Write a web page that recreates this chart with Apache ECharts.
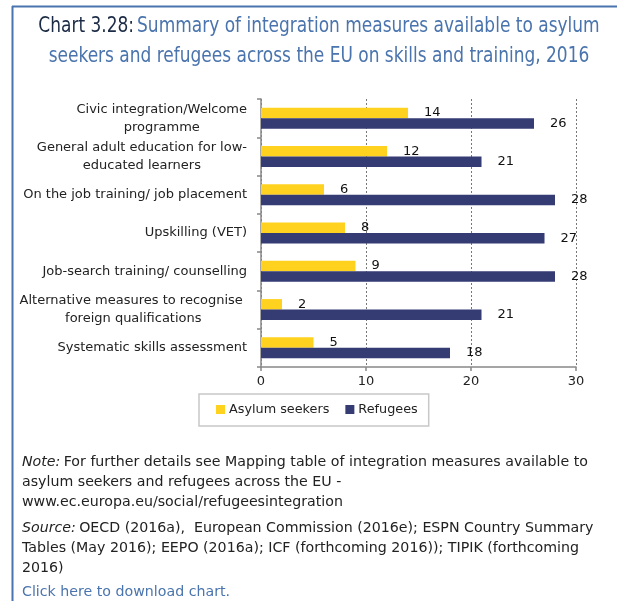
<!DOCTYPE html>
<html>
<head>
<meta charset="utf-8">
<script src="https://cdn.jsdelivr.net/npm/echarts@6/dist/echarts.min.js"></script>
<style>
  html, body { margin: 0; padding: 0; background: #fff; }
  #chart { width: 617px; height: 601px; }
</style>
</head>
<body>
<div id="chart"></div>
<script>
const categories = [
    "Civic integration/Welcome\nprogramme",
    "General adult education for low-\neducated learners",
    "On the job training/ job placement",
    "Upskilling (VET)",
    "Job-search training/ counselling",
    "Alternative measures to recognise \nforeign qualifications",
    "Systematic skills assessment",
];
const asylumSeekers = [14, 12, 6, 8, 9, 2, 5];
const refugees = [26, 21, 28, 27, 28, 21, 18];
const xTicks = { min: 0, max: 30, interval: 10 };

const FONT = "'DejaVu Sans', 'Liberation Sans', sans-serif";
const NARROW = "'DejaVu Sans Condensed', 'DejaVu Sans', sans-serif";
const YELLOW = "#FFD21F";
const NAVY = "#353B73";
const FRAME = "#4a74ad";

const chart = echarts.init(document.getElementById("chart"), null, { renderer: "canvas" });

const valueLabel = {
    show: true,
    position: "right",
    distance: 16,
    color: "#111",
    fontSize: 13,
    fontFamily: FONT,
};

chart.setOption({
    animation: false,
    backgroundColor: "#fff",
    grid: { left: 261, right: 41, top: 99, bottom: 234, containLabel: false },
    legend: {
        data: ["Asylum seekers", "Refugees"],
        left: 199,
        top: 394,
        orient: "horizontal",
        icon: "rect",
        itemWidth: 9,
        itemHeight: 9,
        itemGap: 16,
        padding: [9, 11, 10, 17],
        borderColor: "#c8c8c8",
        borderWidth: 1.5,
        textStyle: { color: "#222", fontSize: 12.8, fontFamily: FONT, padding: [0, 0, 0, -1] },
    },
    xAxis: {
        type: "value",
        min: xTicks.min,
        max: xTicks.max,
        interval: xTicks.interval,
        axisLine: { show: true, lineStyle: { color: "#888", width: 1.5 } },
        axisTick: { show: true, length: 4, lineStyle: { color: "#888", width: 1.5 } },
        axisLabel: { color: "#222", fontSize: 13, fontFamily: FONT, margin: 8 },
        splitLine: { show: true, lineStyle: { color: "#777", type: [2, 2], width: 1 } },
    },
    yAxis: {
        type: "category",
        inverse: true,
        data: categories,
        axisLine: { show: true, lineStyle: { color: "#888", width: 1.5 } },
        axisTick: { show: true, length: 4, lineStyle: { color: "#888", width: 1.5 } },
        axisLabel: {
            margin: 14,
            color: "#222",
            fontSize: 13,
            fontFamily: FONT,
            formatter: (v) => v.split("\n").map((s) => "{c|" + s + "}").join("\n"),
            rich: { c: { align: "center", fontSize: 13, fontFamily: FONT, color: "#222", lineHeight: 18 } },
        },
    },
    series: [
        {
            name: "Asylum seekers",
            type: "bar",
            data: asylumSeekers,
            barWidth: 10.5,
            barGap: "0%",
            itemStyle: { color: YELLOW },
            label: valueLabel,
        },
        {
            name: "Refugees",
            type: "bar",
            data: refugees,
            barWidth: 10.5,
            barGap: "0%",
            itemStyle: { color: NAVY },
            label: valueLabel,
        },
    ],
    graphic: [
        { type: "line", shape: { x1: 12.5, y1: 6, x2: 12.5, y2: 601 }, style: { stroke: FRAME, lineWidth: 2 } },
        { type: "line", shape: { x1: 12, y1: 6.5, x2: 617, y2: 6.5 }, style: { stroke: FRAME, lineWidth: 2 } },
        {
            type: "text",
            x: 319,
            y: 12,
            scaleX: 0.9,
            style: {
                text: "{a|Chart 3.28:} {b|Summary of integration measures available to asylum}\n{b|seekers and refugees across the EU on skills and training, 2016}",
                align: "center",
                rich: {
                    a: { fontSize: 21, fontFamily: NARROW, fill: "#1c2b45", lineHeight: 30 },
                    b: { fontSize: 21, fontFamily: NARROW, fill: "#4a74ad", lineHeight: 30 },
                },
            },
        },
        {
            type: "text",
            x: 22,
            y: 452,
            style: {
                text: "{i|Note:} {n|For further details see Mapping table of integration measures available to}\n{n|asylum seekers and refugees across the EU -}\n{n|www.ec.europa.eu/social/refugeesintegration}",
                rich: {
                    i: { fontSize: 14.2, fontStyle: "italic", fontFamily: FONT, fill: "#222", lineHeight: 20 },
                    n: { fontSize: 14.2, fontFamily: FONT, fill: "#222", lineHeight: 20 },
                },
            },
        },
        {
            type: "text",
            x: 22,
            y: 518,
            style: {
                text: "{i|Source:} {n|OECD (2016a),  European Commission (2016e); ESPN Country Summary}\n{n|Tables (May 2016); EEPO (2016a); ICF (forthcoming 2016)); TIPIK (forthcoming}\n{n|2016)}",
                rich: {
                    i: { fontSize: 14.2, fontStyle: "italic", fontFamily: FONT, fill: "#222", lineHeight: 20 },
                    n: { fontSize: 14.2, fontFamily: FONT, fill: "#222", lineHeight: 20 },
                },
            },
        },
        {
            type: "text",
            x: 22,
            y: 585,
            style: { text: "Click here to download chart.", fontSize: 14.2, fontFamily: FONT, fill: "#4a74ad" },
        },
    ],
});
</script>
</body>
</html>
